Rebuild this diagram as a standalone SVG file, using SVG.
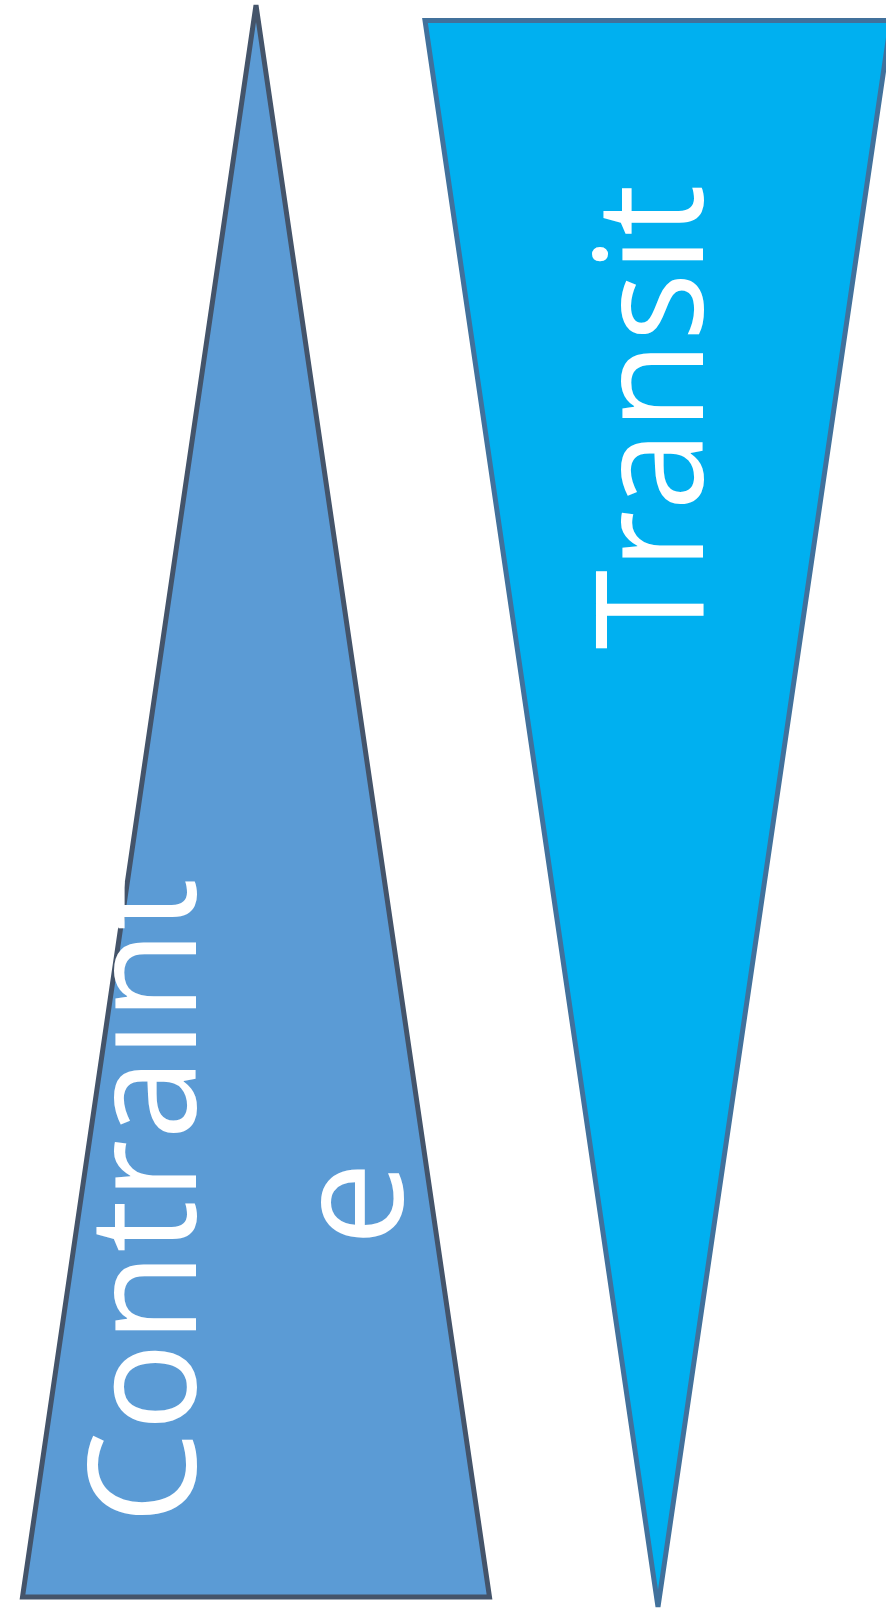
<svg xmlns="http://www.w3.org/2000/svg" width="886" height="1610" viewBox="0 0 886 1610">
<style>
.lbl{font-family:"Open Sans","Noto Sans","Liberation Sans",sans-serif;font-size:150px;fill:#FFFFFF;text-anchor:middle}
</style>
<rect width="886" height="1610" fill="#FFFFFF"/>
<g id="constraint">
<polygon points="256,5 489.5,1597 22.5,1597" fill="#5B9BD5" stroke="#44546A" stroke-width="5"/>
<text class="lbl" transform="translate(196,1201) rotate(-90)" textLength="646" lengthAdjust="spacingAndGlyphs">Contraint</text>
<text class="lbl" transform="translate(403,1204) rotate(-90)">e</text>
</g>
<g id="transit">
<polygon points="425,20.5 891,20.5 658,1607" fill="#00B0F0" stroke="#41719C" stroke-width="5"/>
<text class="lbl" transform="translate(703,417) rotate(-90)" textLength="465" lengthAdjust="spacingAndGlyphs">Transit</text>
</g>
<g id="connectors"></g>
</svg>
